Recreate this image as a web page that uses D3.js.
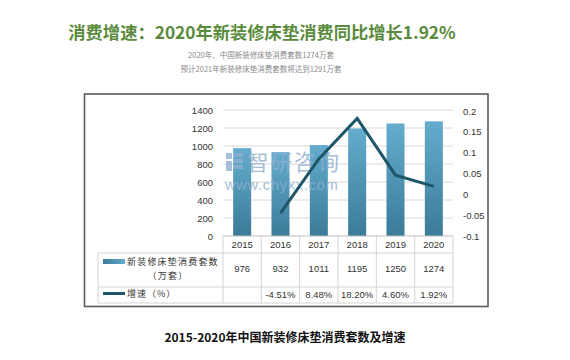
<!DOCTYPE html>
<html><head><meta charset="utf-8">
<script src="https://cdn.jsdelivr.net/npm/d3@7/dist/d3.min.js"></script>
<style>body{margin:0;background:#fff;}svg{display:block;}</style>
</head><body>
<script>
const years = ["2015","2016","2017","2018","2019","2020"];
const sales = [976, 932, 1011, 1195, 1250, 1274];
const growth = [null, -0.0451, 0.0848, 0.1820, 0.0460, 0.0192];
const growthLabels = ["", "-4.51%", "8.48%", "18.20%", "4.60%", "1.92%"];
const leftTicks = [0,200,400,600,800,1000,1200,1400];
const rightTicks = [-0.1,-0.05,0,0.05,0.1,0.15,0.2];
const rightTickLabels = ["-0.1","-0.05","0","0.05","0.1","0.15","0.2"];
const titleText = "消费增速：2020年新装修床垫消费同比增长1.92%";
const subLines = ["2020年、中国新装修床垫消费套数1274万套","预计2021年新装修床垫消费套数将达到1291万套"];
const seriesNames = ["新装修床垫消费套数","（万套）","增速（%）"];
const caption = "2015-2020年中国新装修床垫消费套数及增速";

const W=570,H=360;
const svg=d3.select("body").append("svg").attr("width",W).attr("height",H);
const CJK="'Noto Sans CJK SC','Noto Sans',sans-serif";
const LAT="'Liberation Sans','Noto Sans',sans-serif";

const defs=svg.append("defs");
const g1=defs.append("linearGradient").attr("id","barG").attr("x1",0).attr("y1",0).attr("x2",0).attr("y2",1);
g1.append("stop").attr("offset","0%").attr("stop-color","#64acce");
g1.append("stop").attr("offset","100%").attr("stop-color","#3b7b98");
const g2=defs.append("linearGradient").attr("id","legG").attr("x1",0).attr("y1",0).attr("x2",1).attr("y2",0);
g2.append("stop").attr("offset","0%").attr("stop-color","#3b7b98");
g2.append("stop").attr("offset","100%").attr("stop-color","#64acce");

// titles
svg.append("text").attr("x",262).attr("y",38.5).attr("text-anchor","middle")
  .attr("font-family",CJK).attr("font-weight","bold").attr("font-size",17.3).attr("fill","#5a8b3c").text(titleText);
subLines.forEach((t,i)=>svg.append("text").attr("x",261).attr("y",58+i*13.5).attr("text-anchor","middle")
  .attr("font-family",CJK).attr("font-size",7.5).attr("fill","#8a8a8a").text(t));

// frame
svg.append("rect").attr("x",84.5).attr("y",94).attr("width",403.5).attr("height",212.5)
  .attr("fill","none").attr("stroke","#5a5a5a").attr("stroke-width",1.6);

// scales
const x=d3.scaleBand().domain(years).range([223,453]).padding(0);
const yL=d3.scaleLinear().domain([0,1400]).range([236,110]);
const yR=d3.scaleLinear().domain([-0.1,0.2]).range([236,111]);

// grid
svg.append("g").selectAll("line").data(leftTicks.filter(d=>d>0)).join("line")
  .attr("x1",223).attr("x2",453).attr("y1",d=>yL(d)).attr("y2",d=>yL(d))
  .attr("stroke","#dadada").attr("stroke-width",1);

// left axis
const axL=svg.append("g").attr("transform","translate(223,0)")
  .call(d3.axisLeft(yL).tickValues(leftTicks).tickFormat(d3.format("d")).tickSize(0).tickPadding(10));
axL.select(".domain").remove();
axL.selectAll("text").attr("font-family",LAT).attr("font-size",9.5).attr("fill","#333");

// right axis
const axR=svg.append("g").attr("transform","translate(453,0)")
  .call(d3.axisRight(yR).tickValues(rightTicks).tickFormat((d,i)=>rightTickLabels[i]).tickSize(0).tickPadding(10));
axR.select(".domain").remove();
axR.selectAll("text").attr("font-family",LAT).attr("font-size",9.5).attr("fill","#333");

// bars
const bw=x.bandwidth()*0.47;
svg.append("g").selectAll("rect").data(years).join("rect")
  .attr("x",d=>x(d)+x.bandwidth()/2-bw/2).attr("width",bw)
  .attr("y",(d,i)=>yL(sales[i])).attr("height",(d,i)=>yL(0)-yL(sales[i]))
  .attr("fill","url(#barG)");

// watermark
const wm=svg.append("g").attr("opacity",0.8);
wm.append("rect").attr("x",226).attr("y",153).attr("width",6).attr("height",6).attr("fill","#8fb0cf");
wm.append("rect").attr("x",233).attr("y",153).attr("width",10).attr("height",4).attr("fill","#8fb0cf");
wm.append("rect").attr("x",233).attr("y",159).attr("width",10).attr("height",4).attr("fill","#8fb0cf");
wm.append("rect").attr("x",226).attr("y",161).attr("width",6).attr("height",10).attr("fill","#8fb0cf");
wm.append("rect").attr("x",233).attr("y",165).attr("width",10).attr("height",4).attr("fill","#8fb0cf");
wm.append("text").attr("x",247).attr("y",170).attr("font-family",CJK).attr("font-size",21.5).attr("letter-spacing",2)
  .attr("fill","#8fb0cf").text("智研咨询");
wm.append("text").attr("x",225).attr("y",190).attr("font-family",LAT).attr("font-size",14.5).attr("letter-spacing",0.8)
  .attr("fill","#8fb0cf").text("www.chyxx.com");

// line
const line=d3.line().defined(d=>d.v!==null).x(d=>x(d.y)+x.bandwidth()/2).y(d=>yR(d.v));
svg.append("path").datum(years.map((y,i)=>({y,v:growth[i]})))
  .attr("d",line).attr("fill","none").attr("stroke","#1d5667").attr("stroke-width",3).attr("stroke-linejoin","miter");

// table
const tg=svg.append("g").attr("stroke","#d4d4d4").attr("stroke-width",1);
const edges=years.map(d=>x(d)).concat([453]);
edges.forEach(e=>tg.append("line").attr("x1",e).attr("x2",e).attr("y1",236).attr("y2",303));
tg.append("line").attr("x1",98).attr("x2",98).attr("y1",253).attr("y2",303);
[253,287,303].forEach(yy=>tg.append("line").attr("x1",98).attr("x2",453).attr("y1",yy).attr("y2",yy));
svg.append("line").attr("x1",223).attr("x2",453).attr("y1",236).attr("y2",236).attr("stroke","#bdbdbd");

const cx=d=>x(d)+x.bandwidth()/2;
svg.append("g").selectAll("text").data(years).join("text")
  .attr("x",cx).attr("y",248).attr("text-anchor","middle")
  .attr("font-family",LAT).attr("font-size",9.5).attr("fill","#333").text(d=>d);
svg.append("g").selectAll("text").data(years).join("text")
  .attr("x",cx).attr("y",271.5).attr("text-anchor","middle")
  .attr("font-family",LAT).attr("font-size",9.5).attr("fill","#333").text((d,i)=>sales[i]);
svg.append("g").selectAll("text").data(years).join("text")
  .attr("x",cx).attr("y",298).attr("text-anchor","middle")
  .attr("font-family",LAT).attr("font-size",9.5).attr("fill","#333").text((d,i)=>growthLabels[i]);

// legend keys
svg.append("rect").attr("x",103).attr("y",259).attr("width",22).attr("height",5).attr("fill","url(#legG)");
svg.append("text").attr("x",127).attr("y",264.5).attr("font-family",CJK).attr("font-size",9).attr("letter-spacing",1.2)
  .attr("fill","#333").text(seriesNames[0]);
svg.append("text").attr("x",168).attr("y",278.5).attr("text-anchor","middle").attr("font-family",CJK).attr("font-size",9).attr("letter-spacing",1.2)
  .attr("fill","#333").text(seriesNames[1]);
svg.append("line").attr("x1",103).attr("x2",125).attr("y1",293.5).attr("y2",293.5).attr("stroke","#1d5667").attr("stroke-width",3);
svg.append("text").attr("x",127).attr("y",297).attr("font-family",CJK).attr("font-size",9).attr("letter-spacing",1)
  .attr("fill","#333").text(seriesNames[2]);

// caption
svg.append("text").attr("x",285).attr("y",341.5).attr("text-anchor","middle")
  .attr("font-family",CJK).attr("font-weight","bold").attr("font-size",12).attr("fill","#111").text(caption);
</script>
</body></html>
